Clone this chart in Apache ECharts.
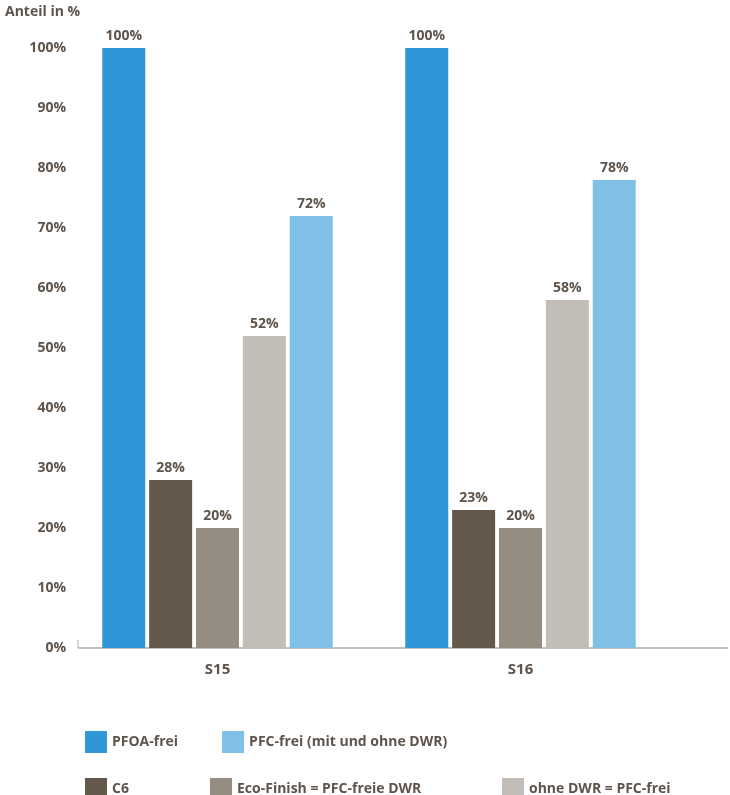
<!DOCTYPE html>
<html><head><meta charset="utf-8">
<script src="https://cdn.jsdelivr.net/npm/echarts@6/dist/echarts.min.js"></script>
<style>body{margin:0}#c{width:730px;height:795px}</style></head>
<body><div id="c"></div>
<script>
var categories = ['S15', 'S16'];
var pfoa = [100, 100];
var c6 = [28, 23];
var eco = [20, 20];
var ohne = [52, 58];
var pfc = [72, 78];
var yTicks = [0, 10, 20, 30, 40, 50, 60, 70, 80, 90, 100];

var txt = '#5e544b';
var font = 'Open Sans';
var chart = echarts.init(document.getElementById('c'));

function bar(name, data, color, gap) {
    var s = {
        name: name, type: 'bar', data: data, barWidth: 43,
        itemStyle: {color: color},
        label: {show: true, position: 'top', formatter: '{c}%', color: txt,
                fontFamily: font, fontWeight: 'bold', fontSize: 14, distance: 5}
    };
    if (gap) s.barGap = '9%';
    return s;
}

var legendText = {color: txt, fontFamily: font, fontWeight: 'bold', fontSize: 14};
option = {
    animation: false,
    title: {text: 'Anteil in %', left: 0, top: 0,
            textStyle: {color: txt, fontFamily: font, fontWeight: 'bold', fontSize: 14}},
    grid: {left: 66, width: 606, top: 48, bottom: 147},
    xAxis: {
        type: 'category', data: categories,
        axisLine: {show: false}, axisTick: {show: false},
        axisLabel: {color: txt, fontFamily: font, fontWeight: 'bold', fontSize: 15, margin: 14}
    },
    yAxis: {
        type: 'value', min: 0, max: 100, interval: 10,
        splitLine: {show: false}, axisLine: {show: false}, axisTick: {show: false},
        axisLabel: {formatter: '{value}%', color: txt, fontFamily: font, fontWeight: 'bold', fontSize: 14, margin: 0}
    },
    legend: [
        {data: ['PFOA-frei', 'PFC-frei (mit und ohne DWR)'], left: 80, top: 726,
         itemWidth: 22, itemHeight: 22, itemGap: 44, icon: 'rect', textStyle: legendText},
        {data: ['C6'], left: 80, top: 773, itemWidth: 22, itemHeight: 22, icon: 'rect', textStyle: legendText},
        {data: ['Eco-Finish = PFC-freie DWR'], left: 205, top: 773, itemWidth: 22, itemHeight: 22, icon: 'rect', textStyle: legendText},
        {data: ['ohne DWR = PFC-frei'], left: 497, top: 773, itemWidth: 22, itemHeight: 22, icon: 'rect', textStyle: legendText}
    ],
    graphic: [
        {type: 'line', shape: {x1: 78, y1: 648, x2: 728, y2: 648}, style: {stroke: '#b3aaa2', lineWidth: 1.5}},
        {type: 'line', shape: {x1: 78, y1: 640, x2: 78, y2: 648}, style: {stroke: '#b3aaa2', lineWidth: 1}}
    ],
    series: [
        bar('PFOA-frei', pfoa, '#2f97d8', true),
        bar('C6', c6, '#64584c', true),
        bar('Eco-Finish = PFC-freie DWR', eco, '#958c82', true),
        bar('ohne DWR = PFC-frei', ohne, '#c3bdb8', true),
        bar('PFC-frei (mit und ohne DWR)', pfc, '#80c0e6', true)
    ]
};
chart.setOption(option);
</script></body></html>
